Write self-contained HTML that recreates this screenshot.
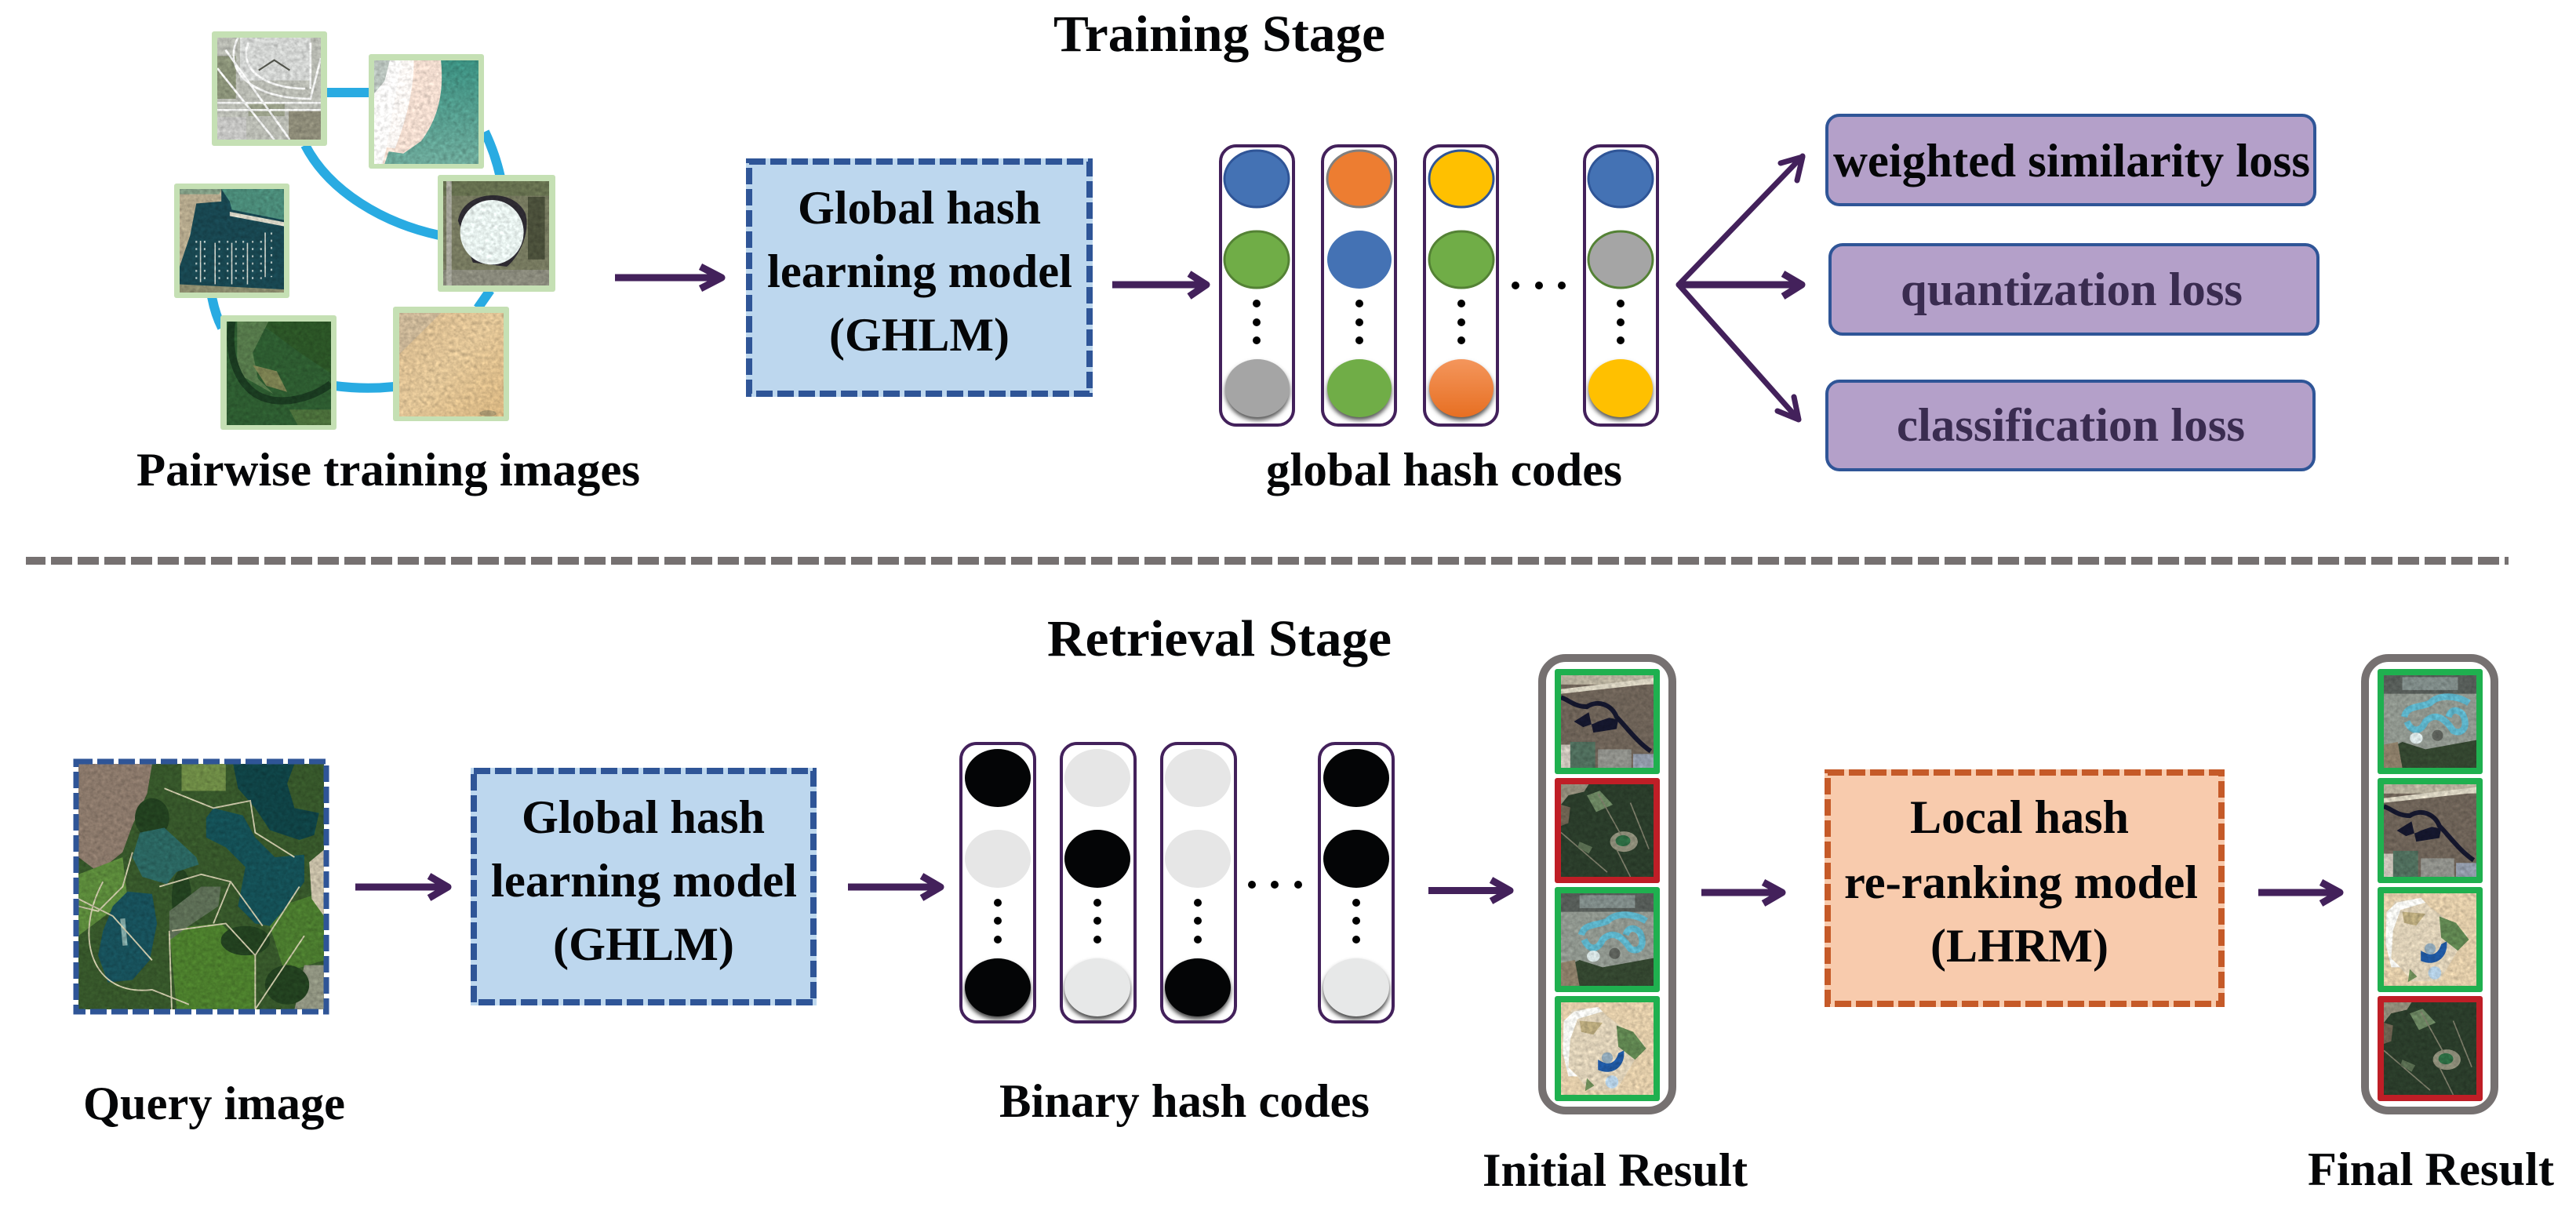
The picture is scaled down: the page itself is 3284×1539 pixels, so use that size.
<!DOCTYPE html>
<html><head><meta charset="utf-8"><style>
html,body{margin:0;padding:0;background:#fff}
svg{display:block}
text{font-family:"Liberation Serif",serif;font-weight:bold;fill:#050608;font-size:60px}
</style></head><body>
<svg xmlns="http://www.w3.org/2000/svg" width="3284" height="1539" viewBox="0 0 3284 1539">
<defs>
<filter id="tex" x="0" y="0" width="1" height="1" color-interpolation-filters="sRGB">
<feTurbulence type="fractalNoise" baseFrequency="0.2" numOctaves="3" seed="4"/>
<feColorMatrix values=".33 .33 .33 0 0 .33 .33 .33 0 0 .33 .33 .33 0 0 0 0 0 0 1" result="n"/>
<feComposite in="SourceGraphic" in2="n" operator="arithmetic" k1="0.6" k2="0.7" k3="0" k4="0"/>
</filter>
<filter id="sh" x="-30%" y="-30%" width="160%" height="160%"><feGaussianBlur stdDeviation="3"/></filter>
<linearGradient id="org" x1="0" y1="0" x2="0" y2="1"><stop offset="0" stop-color="#f4965c"/><stop offset="1" stop-color="#e76f22"/></linearGradient>
<linearGradient id="sand" x1="0" y1="0" x2="1" y2="1"><stop offset="0" stop-color="#d6b98e"/><stop offset=".5" stop-color="#e0c496"/><stop offset="1" stop-color="#d8b681"/></linearGradient>
<linearGradient id="teal" x1="0" y1="0" x2="0" y2="1"><stop offset="0" stop-color="#3b8f80"/><stop offset="1" stop-color="#6da99a"/></linearGradient>

<symbol id="airport" viewBox="0 0 100 100" preserveAspectRatio="none">
<rect width="100" height="100" fill="#b8bab2"/>
<rect x="22" y="0" width="68" height="42" fill="#d2d4d2"/>
<rect x="0" y="18" width="18" height="42" fill="#8a9278"/>
<rect x="0" y="78" width="28" height="22" fill="#c4c4c2"/>
<rect x="69" y="70" width="31" height="30" fill="#8d8b78"/>
<rect x="30" y="65" width="35" height="12" fill="#9aa08a"/>
<path d="M0 30L55 100M8 12L70 100M20 0C5 30 30 60 90 60L100 20M0 64H100M0 71H100M30 5C20 30 45 50 85 50M90 5V50" stroke="#f2f3f2" stroke-width="2" fill="none"/>
<path d="M40 32L55 22L70 32" stroke="#50524a" stroke-width="1.6" fill="none"/>
</symbol>
<symbol id="beach" viewBox="0 0 100 100" preserveAspectRatio="none">
<rect width="100" height="100" fill="url(#teal)"/>
<path d="M0 0H64C67 30 62 55 45 78L28 90L14 88L10 100H0Z" fill="#f1dccf"/>
<path d="M0 0H26C28 25 20 60 12 84L8 100H0Z" fill="#fbfaf9"/>
<path d="M26 0H38C38 30 30 60 20 85L12 84Z" fill="#fbf7f4"/>
<path d="M0 0H15L10 20L0 32Z" fill="#b8c2bc"/>
</symbol>
<symbol id="stadium" viewBox="0 0 100 100" preserveAspectRatio="none">
<rect width="100" height="100" fill="#76795f"/>
<rect y="0" width="100" height="14" fill="#66704f"/>
<rect y="85" width="100" height="15" fill="#8a8a7c"/>
<rect x="3" width="5" height="100" fill="#a5a59a"/>
<rect x="80" y="15" width="16" height="60" fill="#4a4f3a"/>
<path d="M14 38C18 8 68 5 78 32C82 50 72 72 60 82L28 78Z" fill="#2d2a31"/>
<ellipse cx="46" cy="49" rx="30" ry="31" fill="#e7f1ee"/>
</symbol>
<symbol id="marina" viewBox="0 0 100 100" preserveAspectRatio="none">
<rect width="100" height="100" fill="#184650"/>
<path d="M40 0H100V30L50 20L48 12Z" fill="#4a8a78"/>
<path d="M0 0H40L40 12L16 14L10 45L0 75Z" fill="#b4a88c"/>
<path d="M0 0H40L38 5H0Z" fill="#7f9a82"/>
<path d="M48 22L100 32V36L48 26Z" fill="#d9d6c6"/>
<path d="M0 92L100 97V100H0Z" fill="#8a8a6c"/>
<path d="M20 50V90M34 52V92M50 52V92M65 52V92M82 42V85" stroke="#cfd3cb" stroke-width="1.2"/>
<path d="M16 50V88M24 50V88M38 50V88M46 50V88M54 50V88M61 50V88M70 50V88M78 50V88M88 42V85" stroke="#aebfbd" stroke-width="1.6" stroke-dasharray="2 5"/>
</symbol>
<symbol id="river" viewBox="0 0 100 100" preserveAspectRatio="none">
<rect width="100" height="100" fill="#2d5b30"/>
<path d="M30 0H100V50L70 30Z" fill="#2b5426"/>
<path d="M10 0H40L25 30L30 55L45 70L10 50Z" fill="#55784a"/>
<path d="M25 42L48 48L58 68L38 62Z" fill="#7a7f50"/>
<path d="M5 0C0 30 10 68 40 75C60 80 85 72 100 60" stroke="#1a3a20" stroke-width="7" fill="none"/>
<path d="M60 85H100V100H68Z" fill="#4a6e3a"/>
</symbol>
<symbol id="sandt" viewBox="0 0 100 100" preserveAspectRatio="none">
<rect width="100" height="100" fill="url(#sand)"/>
<path d="M0 0H40L0 40Z" fill="#c9b596"/>
<ellipse cx="85" cy="97" rx="8" ry="3" fill="#a89670"/>
</symbol>
<symbol id="query" viewBox="0 0 100 100" preserveAspectRatio="none">
<rect width="100" height="100" fill="#36562a"/>
<path d="M0 0H30L28 12L22 25L18 36L8 44L0 38Z" fill="#8a786a"/>
<rect x="42" y="0" width="18" height="11" fill="#6d8a45"/>
<path d="M37 67L58 65L72 78V100H40Z" fill="#4b7d2c"/>
<path d="M76 60L100 52V80L84 85Z" fill="#4a7a2e"/>
<path d="M0 45L18 38L20 55L0 70Z" fill="#5a883a"/>
<path d="M94 40L100 35V62L95 55Z" fill="#c6bda6"/>
<path d="M92 82H100V100H88Z" fill="#8f9380"/>
<g fill="#22401f"><ellipse cx="42" cy="55" rx="4" ry="12"/><ellipse cx="68" cy="72" rx="10" ry="6"/><ellipse cx="85" cy="90" rx="9" ry="8"/><ellipse cx="30" cy="22" rx="7" ry="8"/></g>
<path d="M63 0H88L85 8L88 18L98 20L96 29L90 31L78 27L72 18L65 10Z" fill="#0f4245"/>
<path d="M55 18L67 21L72 30L80 38L92 37L92 48L85 58L78 66L72 65L65 58L68 42L60 34L52 30L52 22Z" fill="#144f55"/>
<path d="M25 28L35 26L48 38L49 41L40 44L36 49L26 46L22 38Z" fill="#2a6560"/>
<path d="M20 52L30 53L32 65L29 80L22 88L12 89L8 78L10 68L14 58Z" fill="#17505a"/>
<path d="M50 50L58 50L57 58L45 66L37 72L37 60Z" fill="#5c6d55"/>
<path d="M18 63L19 74" stroke="#7fa5a2" stroke-width="2"/>
<g fill="none" stroke="#c9c4a6" stroke-width=".6">
<path d="M35 10L55 18L70 15L72 28L88 38"/><path d="M22 36L18 50L8 60L0 58"/><path d="M10 48C-2 70 5 95 30 92L45 98"/>
<path d="M38 68L60 65L72 78L72 100"/><path d="M37 68L38 100M33 50L50 45L62 48L55 65"/><path d="M72 78L90 50M72 100L92 70M0 55L14 62L30 80"/><path d="M62 48L75 66"/>
</g>
</symbol>
<symbol id="wet" viewBox="0 0 100 100" preserveAspectRatio="none">
<rect width="100" height="100" fill="#6d6257"/>
<rect width="100" height="10" fill="#b6af9c"/>
<path d="M0 15L100 3V9L0 20Z" fill="#d8d2c0"/>
<rect x="10" y="72" width="27" height="28" fill="#4f6d5c"/>
<rect x="40" y="80" width="36" height="20" fill="#8f908a"/>
<rect y="75" width="10" height="25" fill="#c9c2b8"/>
<rect x="78" y="85" width="22" height="15" fill="#9099a8"/>
<path d="M0 24C8 26 14 34 28 34C40 26 55 32 60 45C70 55 82 72 97 82" stroke="#14162c" stroke-width="5" fill="none"/>
<path d="M14 50L30 40L35 62L60 58L62 48L52 46L40 50L36 52L24 56Z" fill="#14162c"/>
</symbol>
<symbol id="forest" viewBox="0 0 100 100" preserveAspectRatio="none">
<rect width="100" height="100" fill="#2a3c2a"/>
<path d="M0 0H30L25 8L8 12L0 22Z" fill="#8f8a78"/>
<path d="M28 12L42 7L56 22L38 30Z" fill="#6a8460"/>
<path d="M0 22L10 25L8 42L0 45Z" fill="#6c6150"/>
<ellipse cx="68" cy="62" rx="15" ry="11" fill="#8c8c78"/>
<ellipse cx="67" cy="61" rx="8" ry="6" fill="#2c6b42"/>
<path d="M40 10L65 55M0 52L50 95M75 20L95 70M60 70L75 100" stroke="#7b7b68" stroke-width="1.4" fill="none"/>
<path d="M20 62L34 68L30 75L18 68Z" fill="#586c50"/>
</symbol>
<symbol id="water" viewBox="0 0 100 100" preserveAspectRatio="none">
<rect width="100" height="100" fill="#8f968e"/>
<rect width="100" height="20" fill="#565c58"/>
<rect x="20" y="2" width="60" height="14" fill="#7f8b88"/>
<path d="M0 82L20 72L45 80L100 70V100H0Z" fill="#33452f"/>
<path d="M0 75L15 72L20 100H0Z" fill="#8b7d68"/>
<path d="M22 45C25 32 40 35 50 30C60 20 80 22 92 30M25 50C30 62 40 62 45 50C55 40 65 45 75 60C85 65 92 55 85 42C78 35 72 38 70 45" fill="none" stroke="#5cb2c8" stroke-width="7"/>
<ellipse cx="35" cy="68" rx="7" ry="6" fill="#d8e4e4"/>
<circle cx="58" cy="65" r="6" fill="#5c605a"/>
</symbol>
<symbol id="resort" viewBox="0 0 100 100" preserveAspectRatio="none">
<rect width="100" height="100" fill="#e0cba8"/>
<path d="M12 8L40 5L50 15L90 45L60 95L30 95L5 65L3 25Z" fill="#dccfb6"/>
<path d="M3 20L14 10L40 5L45 10L18 18L10 40L8 70L18 80L8 80L2 55Z" fill="#f6f6f2"/>
<path d="M60 25L78 32L92 50L80 62L62 48Z" fill="#5f8450"/>
<path d="M20 20L45 22L35 35L22 32Z" fill="#b8a87c"/>
<path d="M40 73C55 80 70 70 68 52L62 55C58 68 50 68 40 62Z" fill="#1f57a0"/>
<circle cx="50" cy="60" r="6" fill="#90a8b8"/>
<circle cx="55" cy="86" r="7" fill="#b4cfe4"/>
<path d="M28 82L36 90L26 96Z" fill="#6d8c58"/>
</symbol>
</defs>

<rect width="3284" height="1539" fill="#fff"/>

<text x="1343" y="65" style="font-size:66px" textLength="423" lengthAdjust="spacingAndGlyphs">Training Stage</text>
<text x="1335" y="836" style="font-size:66px" textLength="439" lengthAdjust="spacingAndGlyphs">Retrieval Stage</text>
<line x1="33" y1="715" x2="3198" y2="715" stroke="#767171" stroke-width="10" stroke-dasharray="27 7" stroke-dashoffset="2"/>

<!-- training graph connectors -->
<g fill="none" stroke="#29abe2" stroke-width="12">
<path d="M415 118Q445 118 472 118"/>
<path d="M389 185C420 245 490 285 560 300" />
<path d="M618 168Q631 195 638 226"/>
<path d="M625 370L609 393"/>
<path d="M270 378Q274 400 283 418"/>
<path d="M427 492Q465 497 503 493"/>
</g>
<!-- training tiles -->
<g fill="#c5e0b4">
<rect x="270" y="40" width="147" height="146" rx="3"/>
<rect x="470" y="69" width="147" height="146" rx="3"/>
<rect x="558" y="223" width="150" height="149" rx="3"/>
<rect x="222" y="234" width="147" height="146" rx="3"/>
<rect x="281" y="402" width="148" height="146" rx="3"/>
<rect x="501" y="391" width="148" height="146" rx="3"/>
</g>
<g filter="url(#tex)">
<use href="#airport" x="277" y="48" width="132" height="130"/>
<use href="#beach" x="477" y="77" width="133" height="132"/>
<use href="#stadium" x="565" y="231" width="135" height="133"/>
<use href="#marina" x="229" y="241" width="133" height="132"/>
<use href="#river" x="289" y="410" width="133" height="132"/>
<use href="#sandt" x="509" y="399" width="133" height="132"/>
</g>
<text x="174" y="619" textLength="642" lengthAdjust="spacingAndGlyphs">Pairwise training images</text>

<!-- arrows -->
<g fill="none" stroke="#43215b" stroke-width="9" stroke-linecap="round" stroke-linejoin="round">
<path d="M784 354H918M893 340L920 354L893 368" stroke-linecap="butt"/>
<path d="M1418 363H1536M1516 349L1538 363L1516 378" stroke-linecap="butt"/>
<path d="M2140 363H2295M2273 349L2297 363L2273 378" stroke-linecap="butt"/>
<path d="M453 1131H569M547 1117L571 1131L547 1145" stroke-linecap="butt"/>
<path d="M1081 1131H1197M1175 1117L1199 1131L1175 1145" stroke-linecap="butt"/>
<path d="M1821 1135.500H1923M1901 1122L1925 1135.500L1901 1149" stroke-linecap="butt"/>
<path d="M2169 1138H2270M2248 1125L2272 1138L2248 1152" stroke-linecap="butt"/>
<path d="M2879 1138H2981M2959 1125L2983 1138L2959 1152" stroke-linecap="butt"/>
<g stroke-width="7">
<path d="M2140 363L2298 199M2291 230L2298 200L2270 208"/>
<path d="M2140 363L2293 535M2287 506L2293 535L2266 524"/>
</g>
</g>

<!-- GHLM top -->
<rect x="951" y="202" width="442" height="304" fill="#bdd7ee"/>
<rect x="955" y="206" width="434" height="296" fill="none" stroke="#2f5597" stroke-width="8" stroke-dasharray="21 6"/>
<text x="1017" y="285" textLength="310" lengthAdjust="spacingAndGlyphs">Global hash</text>
<text x="978" y="366" textLength="389" lengthAdjust="spacingAndGlyphs">learning model</text>
<text x="1057" y="447" textLength="230" lengthAdjust="spacingAndGlyphs">(GHLM)</text>

<!-- colored code columns -->
<g fill="#fff" stroke="#43215b" stroke-width="4">
<rect x="1556" y="186" width="93" height="356" rx="20"/>
<rect x="1686" y="186" width="93" height="356" rx="20"/>
<rect x="1816" y="186" width="93" height="356" rx="20"/>
<rect x="2020" y="186" width="93" height="356" rx="20"/>
</g>
<g fill="#555" filter="url(#sh)">
<ellipse cx="1603" cy="499" rx="41" ry="37"/><ellipse cx="1733" cy="499" rx="41" ry="37"/><ellipse cx="1863" cy="499" rx="41" ry="37"/><ellipse cx="2066" cy="499" rx="41" ry="37"/>
</g>
<g stroke-width="3">
<ellipse cx="1602" cy="228" rx="41" ry="36" fill="#4472b4" stroke="#2f5597"/>
<ellipse cx="1602" cy="331" rx="41" ry="36" fill="#70ad47" stroke="#548235"/>
<ellipse cx="1603" cy="495" rx="41" ry="37" fill="#a5a5a5"/>
<ellipse cx="1733" cy="228" rx="41" ry="36" fill="#ed7d31" stroke="#7f7f7f"/>
<ellipse cx="1733" cy="331" rx="41" ry="37" fill="#4472b4"/>
<ellipse cx="1733" cy="495" rx="41" ry="37" fill="#70ad47"/>
<ellipse cx="1863" cy="228" rx="41" ry="36" fill="#ffc000" stroke="#2f5597"/>
<ellipse cx="1863" cy="331" rx="41" ry="36" fill="#70ad47" stroke="#548235"/>
<ellipse cx="1863" cy="495" rx="41" ry="37" fill="url(#org)"/>
<ellipse cx="2066" cy="228" rx="41" ry="36" fill="#4472b4" stroke="#2f5597"/>
<ellipse cx="2066" cy="331" rx="41" ry="36" fill="#a5a5a5" stroke="#548235"/>
<ellipse cx="2066" cy="495" rx="41" ry="37" fill="#ffc000"/>
</g>
<g fill="#000">
<ellipse cx="1602" cy="387" rx="5" ry="5"/><ellipse cx="1602" cy="411" rx="5" ry="5"/><ellipse cx="1602" cy="434" rx="5" ry="5"/>
<ellipse cx="1733" cy="387" rx="5" ry="5"/><ellipse cx="1733" cy="411" rx="5" ry="5"/><ellipse cx="1733" cy="434" rx="5" ry="5"/>
<ellipse cx="1863" cy="387" rx="5" ry="5"/><ellipse cx="1863" cy="411" rx="5" ry="5"/><ellipse cx="1863" cy="434" rx="5" ry="5"/>
<ellipse cx="2066" cy="387" rx="5" ry="5"/><ellipse cx="2066" cy="411" rx="5" ry="5"/><ellipse cx="2066" cy="434" rx="5" ry="5"/>
<circle cx="1932" cy="364" r="5"/><circle cx="1962" cy="364" r="5"/><circle cx="1991" cy="364" r="5"/>
</g>
<text x="1614" y="619" textLength="454" lengthAdjust="spacingAndGlyphs">global hash codes</text>

<!-- loss boxes -->
<g fill="#b4a0c9" stroke="#2f5597" stroke-width="4">
<rect x="2329" y="147" width="622" height="114" rx="16"/>
<rect x="2333" y="312" width="622" height="114" rx="16"/>
<rect x="2329" y="486" width="621" height="113" rx="16"/>
</g>
<text x="2337" y="225" textLength="608" lengthAdjust="spacingAndGlyphs">weighted similarity loss</text>
<text x="2423" y="389" textLength="436" lengthAdjust="spacingAndGlyphs" style="fill:#3a2c50">quantization loss</text>
<text x="2418" y="562" textLength="444" lengthAdjust="spacingAndGlyphs" style="fill:#3a2c50">classification loss</text>

<!-- query -->
<use href="#query" x="100" y="974" width="313" height="313" filter="url(#tex)"/>
<rect x="97" y="971" width="319" height="319" fill="none" stroke="#2f5597" stroke-width="7" stroke-dasharray="21 6"/>
<text x="106" y="1427" textLength="334" lengthAdjust="spacingAndGlyphs">Query image</text>

<!-- GHLM bottom -->
<rect x="600" y="979" width="441" height="303" fill="#bdd7ee"/>
<rect x="604" y="983" width="433" height="295" fill="none" stroke="#2f5597" stroke-width="8" stroke-dasharray="21 6"/>
<text x="665" y="1062" textLength="310" lengthAdjust="spacingAndGlyphs">Global hash</text>
<text x="626" y="1143" textLength="390" lengthAdjust="spacingAndGlyphs">learning model</text>
<text x="705" y="1224" textLength="231" lengthAdjust="spacingAndGlyphs">(GHLM)</text>

<!-- binary columns -->
<g fill="#fff" stroke="#43215b" stroke-width="4">
<rect x="1225" y="948" width="94" height="355" rx="20"/>
<rect x="1353" y="948" width="94" height="355" rx="20"/>
<rect x="1481" y="948" width="94" height="355" rx="20"/>
<rect x="1682" y="948" width="94" height="355" rx="20"/>
</g>
<g fill="#444" filter="url(#sh)">
<ellipse cx="1272" cy="1263" rx="42" ry="37"/><ellipse cx="1399" cy="1263" rx="42" ry="37"/><ellipse cx="1527" cy="1263" rx="42" ry="37"/><ellipse cx="1729" cy="1263" rx="42" ry="37"/>
</g>
<g>
<ellipse cx="1272" cy="992" rx="42" ry="37" fill="#040506"/><ellipse cx="1272" cy="1095" rx="42" ry="37" fill="#e6e6e6"/><ellipse cx="1272" cy="1259" rx="42" ry="37" fill="#040506"/>
<ellipse cx="1399" cy="992" rx="42" ry="37" fill="#e6e6e6"/><ellipse cx="1399" cy="1095" rx="42" ry="37" fill="#040506"/><ellipse cx="1399" cy="1259" rx="42" ry="37" fill="#e7e8e8"/>
<ellipse cx="1527" cy="992" rx="42" ry="37" fill="#e6e6e6"/><ellipse cx="1527" cy="1095" rx="42" ry="37" fill="#e6e6e6"/><ellipse cx="1527" cy="1259" rx="42" ry="37" fill="#040506"/>
<ellipse cx="1729" cy="992" rx="42" ry="37" fill="#040506"/><ellipse cx="1729" cy="1095" rx="42" ry="37" fill="#040506"/><ellipse cx="1729" cy="1259" rx="42" ry="37" fill="#e7e8e8"/>
</g>
<g fill="#000">
<circle cx="1272" cy="1151" r="5"/><circle cx="1272" cy="1174" r="5"/><circle cx="1272" cy="1198" r="5"/>
<circle cx="1399" cy="1151" r="5"/><circle cx="1399" cy="1174" r="5"/><circle cx="1399" cy="1198" r="5"/>
<circle cx="1527" cy="1151" r="5"/><circle cx="1527" cy="1174" r="5"/><circle cx="1527" cy="1198" r="5"/>
<circle cx="1729" cy="1151" r="5"/><circle cx="1729" cy="1174" r="5"/><circle cx="1729" cy="1198" r="5"/>
<circle cx="1596" cy="1128" r="5"/><circle cx="1625" cy="1128" r="5"/><circle cx="1655" cy="1128" r="5"/>
</g>
<text x="1274" y="1424" textLength="472" lengthAdjust="spacingAndGlyphs">Binary hash codes</text>

<!-- initial result -->
<rect x="1966" y="839" width="166" height="577" rx="30" fill="#fff" stroke="#767171" stroke-width="10"/>
<g>
<rect x="1982" y="853" width="134" height="134" rx="3" fill="#1fb04f"/>
<rect x="1982" y="992" width="134" height="134" rx="3" fill="#bf1e26"/>
<rect x="1982" y="1131" width="134" height="134" rx="3" fill="#1fb04f"/>
<rect x="1982" y="1270" width="134" height="134" rx="3" fill="#1fb04f"/>
</g>
<g filter="url(#tex)">
<use href="#wet" x="1990" y="861" width="118" height="118"/>
<use href="#forest" x="1990" y="1000" width="118" height="118"/>
<use href="#water" x="1990" y="1139" width="118" height="118"/>
<use href="#resort" x="1990" y="1278" width="118" height="118"/>
</g>
<text x="1890" y="1512" textLength="338" lengthAdjust="spacingAndGlyphs">Initial Result</text>

<!-- LHRM -->
<rect x="2326" y="981" width="510" height="303" fill="#f8cbad"/>
<rect x="2330" y="985" width="502" height="295" fill="none" stroke="#c55a28" stroke-width="8" stroke-dasharray="21 6"/>
<text x="2435" y="1062" textLength="279" lengthAdjust="spacingAndGlyphs">Local hash</text>
<text x="2351" y="1145" textLength="451" lengthAdjust="spacingAndGlyphs">re-ranking model</text>
<text x="2461" y="1226" textLength="227" lengthAdjust="spacingAndGlyphs">(LHRM)</text>

<!-- final result -->
<rect x="3015" y="839" width="165" height="577" rx="30" fill="#fff" stroke="#767171" stroke-width="10"/>
<g>
<rect x="3031" y="853" width="134" height="134" rx="3" fill="#1fb04f"/>
<rect x="3031" y="992" width="134" height="134" rx="3" fill="#1fb04f"/>
<rect x="3031" y="1131" width="134" height="134" rx="3" fill="#1fb04f"/>
<rect x="3031" y="1270" width="134" height="134" rx="3" fill="#bf1e26"/>
</g>
<g filter="url(#tex)">
<use href="#water" x="3039" y="861" width="118" height="118"/>
<use href="#wet" x="3039" y="1000" width="118" height="118"/>
<use href="#resort" x="3039" y="1139" width="118" height="118"/>
<use href="#forest" x="3039" y="1278" width="118" height="118"/>
</g>
<text x="2942" y="1511" textLength="314" lengthAdjust="spacingAndGlyphs">Final Result</text>
</svg>
</body></html>
